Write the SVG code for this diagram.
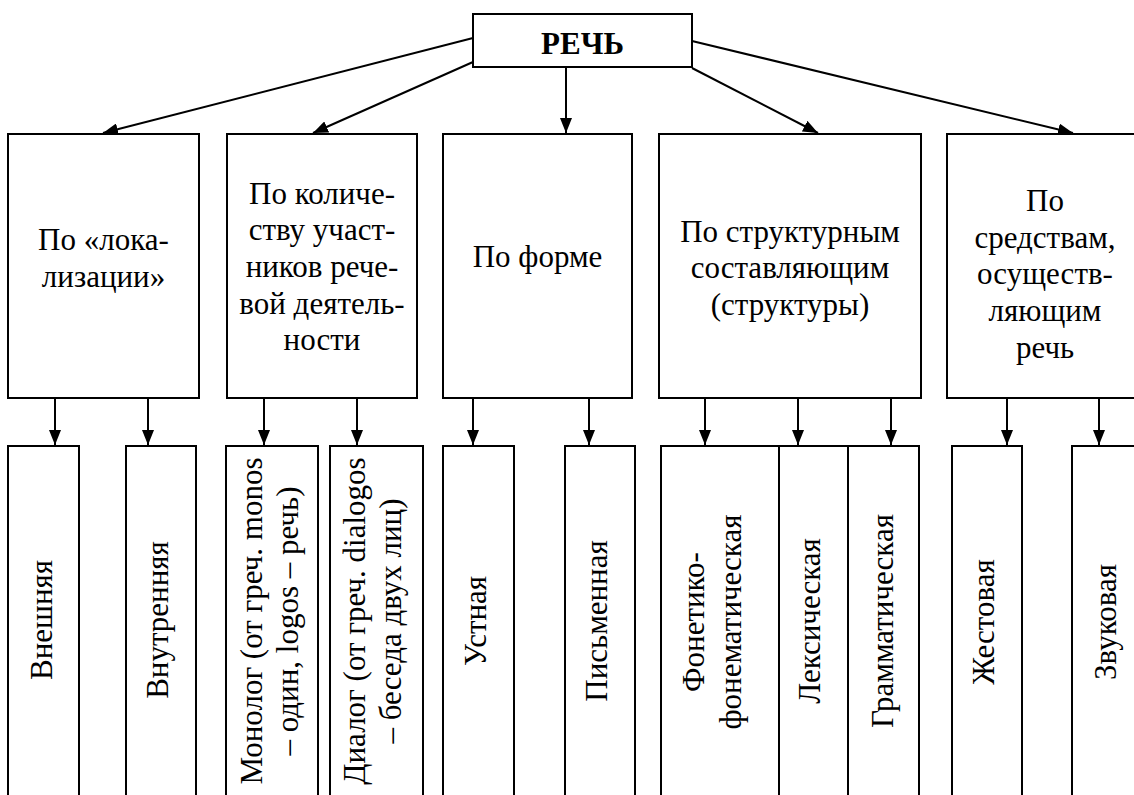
<svg xmlns="http://www.w3.org/2000/svg" width="1134" height="795" viewBox="0 0 1134 795">
<style>
.box{fill:#fff;stroke:#000;stroke-width:2}
.c{stroke:#000;stroke-width:2;fill:none;marker-end:url(#ah)}
</style>
<defs>
<marker id="ah" markerUnits="userSpaceOnUse" markerWidth="16" markerHeight="12" refX="15" refY="6" orient="auto">
<path d="M0,0 L15,6 L0,12 Z" fill="#000"/>
</marker>
</defs>
<rect width="1134" height="795" fill="#fff"/>
<g id="connectors">
<line class="c" x1="473" y1="38" x2="103" y2="133"/>
<line class="c" x1="473" y1="62" x2="313" y2="133"/>
<line class="c" x1="566" y1="67" x2="566" y2="133"/>
<line class="c" x1="692" y1="68" x2="818" y2="133"/>
<line class="c" x1="692" y1="41" x2="1073" y2="133"/>
<line class="c" x1="55" y1="398" x2="55" y2="445"/>
<line class="c" x1="148" y1="398" x2="148" y2="445"/>
<line class="c" x1="264" y1="398" x2="264" y2="445"/>
<line class="c" x1="357" y1="398" x2="357" y2="445"/>
<line class="c" x1="473" y1="398" x2="473" y2="445"/>
<line class="c" x1="589" y1="398" x2="589" y2="445"/>
<line class="c" x1="705" y1="398" x2="705" y2="445"/>
<line class="c" x1="798" y1="398" x2="798" y2="445"/>
<line class="c" x1="891" y1="398" x2="891" y2="445"/>
<line class="c" x1="1007" y1="398" x2="1007" y2="445"/>
<line class="c" x1="1099" y1="398" x2="1099" y2="445"/>
</g>
<g font-family="Liberation Serif, Times New Roman, serif" font-size="31" text-anchor="middle" fill="#000">
<g id="root">
<rect class="box" x="473" y="14" width="219" height="53"/>
<text font-weight="bold" x="582.5" y="54">РЕЧЬ</text>
</g>
<g id="cat-localization">
<rect class="box" x="8" y="134" width="191" height="264"/>
<text x="103.5" y="250">По «лока-<tspan x="103.5" dy="36.7">лизации»</tspan></text>
</g>
<g id="cat-participants">
<rect class="box" x="227" y="134" width="190" height="264"/>
<text x="322" y="203.5">По количе-<tspan x="322" dy="36.7">ству участ-</tspan><tspan x="322" dy="36.7">ников рече-</tspan><tspan x="322" dy="36.7">вой деятель-</tspan><tspan x="322" dy="36.7">ности</tspan></text>
</g>
<g id="cat-form">
<rect class="box" x="443" y="134" width="189" height="264"/>
<text x="537.5" y="267">По форме</text>
</g>
<g id="cat-structure">
<rect class="box" x="659" y="134" width="262" height="264"/>
<text x="790" y="241.5">По структурным<tspan x="790" dy="36.7">составляющим</tspan><tspan x="790" dy="36.7">(структуры)</tspan></text>
</g>
<g id="cat-means">
<rect class="box" x="947" y="134" width="196" height="264"/>
<text x="1045" y="211">По<tspan x="1045" dy="36.7">средствам,</tspan><tspan x="1045" dy="36.7">осуществ-</tspan><tspan x="1045" dy="36.7">ляющим</tspan><tspan x="1045" dy="36.7">речь</tspan></text>
</g>
<g id="leaf-external">
<rect class="box" x="8" y="446" width="71" height="360"/>
<text transform="translate(51.5,620) rotate(-90)">Внешняя</text>
</g>
<g id="leaf-internal">
<rect class="box" x="126" y="446" width="70" height="360"/>
<text transform="translate(168,620) rotate(-90)">Внутренняя</text>
</g>
<g id="leaf-monolog">
<rect class="box" x="226" y="446" width="92" height="360"/>
<text transform="translate(262,621) rotate(-90)">Монолог (от греч. monos<tspan x="0" dy="36">– один, logos – речь)</tspan></text>
</g>
<g id="leaf-dialog">
<rect class="box" x="330" y="446" width="93" height="360"/>
<text transform="translate(365,621) rotate(-90)">Диалог (от греч. dialogos<tspan x="0" dy="36">– беседа двух лиц)</tspan></text>
</g>
<g id="leaf-oral">
<rect class="box" x="443" y="446" width="71" height="360"/>
<text transform="translate(486,621) rotate(-90)">Устная</text>
</g>
<g id="leaf-written">
<rect class="box" x="565" y="446" width="70" height="360"/>
<text transform="translate(607,621) rotate(-90)">Письменная</text>
</g>
<g id="leaf-phonetic">
<rect class="box" x="661" y="446" width="118" height="360"/>
<text transform="translate(704,622) rotate(-90)">Фонетико-<tspan x="0" dy="37">фонематическая</tspan></text>
</g>
<g id="leaf-lexical">
<rect class="box" x="779" y="446" width="69" height="360"/>
<text transform="translate(820,621) rotate(-90)">Лексическая</text>
</g>
<g id="leaf-grammatical">
<rect class="box" x="848" y="446" width="71" height="360"/>
<text transform="translate(893,621) rotate(-90)">Грамматическая</text>
</g>
<g id="leaf-gestural">
<rect class="box" x="952" y="446" width="70" height="360"/>
<text transform="translate(994,622) rotate(-90)">Жестовая</text>
</g>
<g id="leaf-sound">
<rect class="box" x="1072" y="446" width="70" height="360"/>
<text transform="translate(1116,622) rotate(-90)">Звуковая</text>
</g>
</g>
</svg>
